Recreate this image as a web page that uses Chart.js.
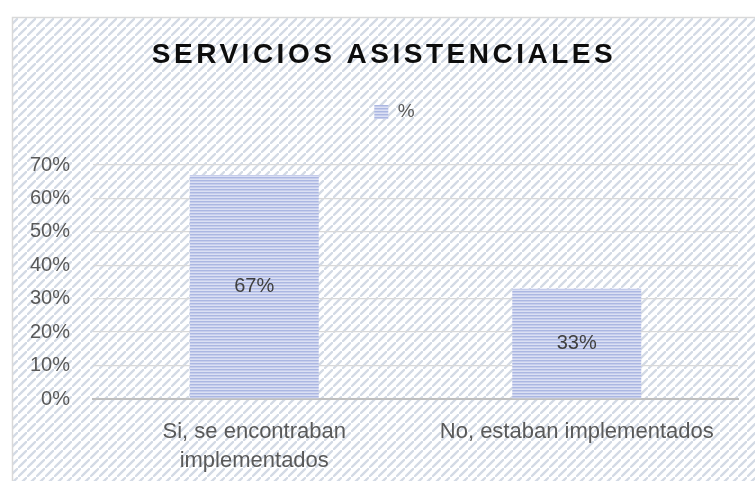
<!DOCTYPE html>
<html>
<head>
<meta charset="utf-8">
<script src="https://cdn.jsdelivr.net/npm/chart.js@4"></script>
<style>
  html, body { margin:0; padding:0; background:#fff; }
  #wrap { width:755px; height:481px; position:relative; }
</style>
</head>
<body>
<div id="wrap"><canvas id="chart"></canvas></div>
<script>
const TITLE = 'SERVICIOS ASISTENCIALES';
const categories = [['Si, se encontraban', 'implementados'], 'No, estaban implementados'];
const seriesName = '%';
const values = [0.67, 0.33];
const yMax = 0.7;
const yStep = 0.1;

const FONT = "'Liberation Sans', Arial, sans-serif";

// horizontal stripes for the bars
function barPattern(){
  const c = document.createElement('canvas');
  c.width = 4; c.height = 3;
  const g = c.getContext('2d');
  const rows = ['#abb7e2', '#c6cdec', '#dbe0f3'];
  rows.forEach((col, i) => { g.fillStyle = col; g.fillRect(0, i, 4, 1); });
  return g.createPattern(c, 'repeat');
}

// diagonal stripes for the chart background
function bgPattern(ctx){
  const s = 9;
  const c = document.createElement('canvas');
  c.width = s; c.height = s;
  const g = c.getContext('2d');
  g.fillStyle = '#ffffff';
  g.fillRect(0, 0, s, s);
  g.strokeStyle = '#d3dae5';
  g.lineWidth = 2.3;
  g.beginPath();
  g.moveTo(-s, s * 2); g.lineTo(s * 2, -s);
  g.moveTo(-s * 2, s); g.lineTo(s, -s * 2);
  g.moveTo(0, s * 3); g.lineTo(s * 3, 0);
  g.stroke();
  return ctx.createPattern(c, 'repeat');
}

const framePlugin = {
  id: 'frame',
  afterLayout(chart){
    // legend in the original sits a bit right of the canvas centre
    chart.legend.left += 24;
  },
  beforeDraw(chart){
    const {ctx, width, height} = chart;
    ctx.save();
    ctx.fillStyle = '#fff';
    ctx.fillRect(0, 0, width, height);
    ctx.fillStyle = bgPattern(ctx);
    ctx.fillRect(12, 17, width - 12, height - 17);
    ctx.strokeStyle = '#d9d9d9';
    ctx.lineWidth = 1.5;
    ctx.strokeRect(12.5, 17.5, width, height);
    ctx.restore();
  }
};

const titlePlugin = {
  id: 'chartTitle',
  afterDraw(chart){
    const ctx = chart.ctx;
    ctx.save();
    ctx.font = 'bold 28px ' + FONT;
    ctx.letterSpacing = '3.5px';
    ctx.fillStyle = '#0d0d0d';
    ctx.textAlign = 'center';
    ctx.textBaseline = 'middle';
    ctx.fillText(TITLE, 384, 55);
    ctx.restore();
  }
};

const valueLabels = {
  id: 'valueLabels',
  afterDatasetsDraw(chart){
    const ctx = chart.ctx;
    const meta = chart.getDatasetMeta(0);
    ctx.save();
    ctx.font = '20px ' + FONT;
    ctx.fillStyle = '#404040';
    ctx.textAlign = 'center';
    ctx.textBaseline = 'middle';
    meta.data.forEach((bar, i) => {
      const {x, y, base} = bar.getProps(['x', 'y', 'base'], true);
      ctx.fillText(Math.round(values[i] * 100) + '%', x, (y + base) / 2);
    });
    ctx.restore();
  }
};

new Chart(document.getElementById('chart'), {
  type: 'bar',
  data: {
    labels: categories,
    datasets: [{
      label: seriesName,
      data: values,
      backgroundColor: barPattern(),
      borderWidth: 0,
      barPercentage: 0.4,
      categoryPercentage: 1
    }]
  },
  options: {
    responsive: true,
    maintainAspectRatio: false,
    animation: false,
    layout: { padding: { top: 92.5, left: 27, right: 17, bottom: 0 } },
    plugins: {
      legend: {
        position: 'top',
        labels: {
          boxWidth: 14, boxHeight: 14, padding: 10,
          color: '#595959',
          font: { size: 19, family: FONT }
        }
      },
      subtitle: {
        display: true, text: '', weight: 500,
        font: { size: 10, lineHeight: 1 },
        padding: { top: 23.5, bottom: 0 }
      },
      tooltip: { enabled: false }
    },
    scales: {
      x: {
        grid: { display: false, drawTicks: false },
        border: { display: true, color: '#bfbfbf', width: 2 },
        ticks: {
          color: '#595959', padding: 18, maxRotation: 0, autoSkip: false,
          font: { size: 22, family: FONT, lineHeight: 1.32 }
        },
        afterFit(scale){ scale.height = 82; }
      },
      y: {
        min: 0, max: yMax,
        grid: { color: '#d9d9d9', lineWidth: 1.3, drawTicks: false },
        border: { display: false },
        ticks: {
          stepSize: yStep, padding: 23, color: '#595959',
          font: { size: 20, family: FONT },
          callback: v => Math.round(v * 100) + '%'
        },
        afterFit(scale){ scale.width = 66; }
      }
    }
  },
  plugins: [framePlugin, titlePlugin, valueLabels]
});
</script>
</body>
</html>
